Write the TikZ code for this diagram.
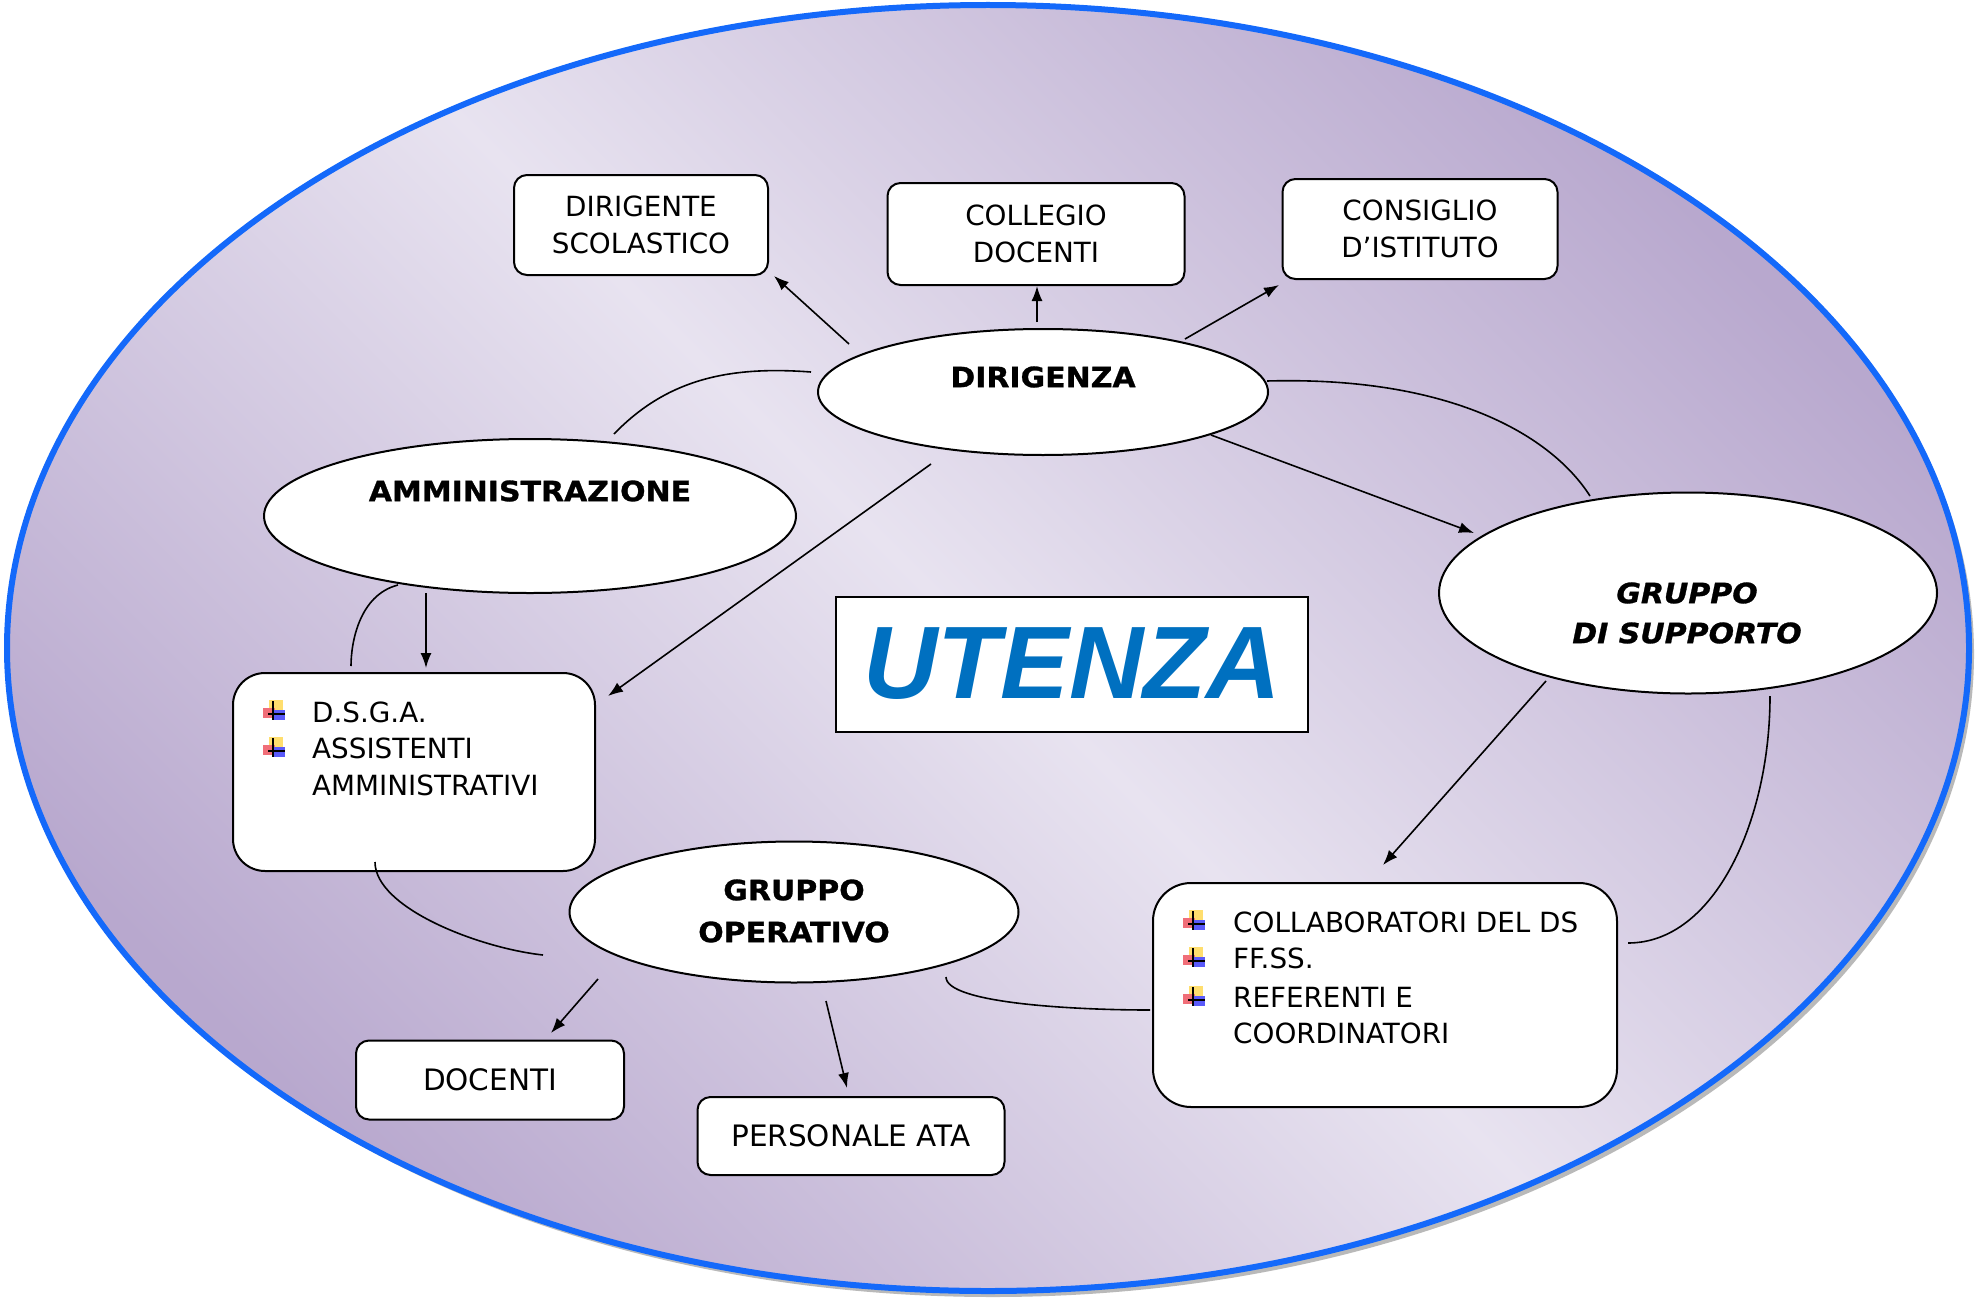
\documentclass[tikz,border=0pt]{standalone}
\usepackage{fontspec}
\setmainfont{DejaVu Sans}
\newfontfamily\bfw[FakeStretch=1.07,FakeBold=1]{DejaVu Sans Bold}
\newfontfamily\bfwi[FakeStretch=1.07,FakeBold=1]{DejaVu Sans Bold Oblique}
\newfontfamily\utz{Liberation Sans}
\usetikzlibrary{shapes.geometric,arrows.meta,calc}
\definecolor{bgdark}{RGB}{184,168,206}
\definecolor{bglight}{RGB}{232,227,240}
\definecolor{ringblue}{RGB}{20,105,250}
\definecolor{utzblue}{RGB}{0,112,192}
\definecolor{bulyel}{RGB}{255,222,110}
\definecolor{bulred}{RGB}{240,110,120}
\definecolor{bulblue}{RGB}{90,90,250}
\tikzset{
  oval/.style={ellipse, draw=black, line width=2pt, fill=white, inner sep=0pt},
  rbox/.style={rectangle, rounded corners=13pt, draw=black, line width=2pt, fill=white,
    align=center, inner sep=0pt, font=\fontsize{27.8}{37}\selectfont},
  bigbox/.style={rectangle, draw=black, line width=2pt, fill=white, inner sep=0pt},
  btxt/.style={font=\bfw\fontsize{28}{40}\selectfont, align=center, inner sep=0pt},
  ltxt/.style={font=\fontsize{27.8}{37}\selectfont, anchor=base west, inner sep=0pt},
  conn/.style={line width=1.6pt},
  arr/.style={line width=1.6pt, -{Latex[length=15pt,width=11pt]}},
  bul/.pic={
    \fill[bulyel] (-5,-10) rectangle (9,0);
    \fill[bulred] (-11,-2) rectangle (1,8);
    \fill[bulblue] (-2,0) rectangle (11,10);
    \draw[line width=1.3pt] (-1,-9) -- (-1,10) (-6,4) -- (11,4);
  }
}
\begin{document}
\begin{tikzpicture}[x=1pt,y=-1pt]
\useasboundingbox (0,0) rectangle (1977,1303);
\fill[white] (0,0) rectangle (1977,1303);
% big ellipse
\fill[gray!55] (993,654) ellipse [x radius=981pt, y radius=643pt];
\shade[top color=bgdark, bottom color=bgdark, middle color=bglight, shading angle=-45]
  (988,648) ellipse [x radius=981pt, y radius=643pt];
\draw[ringblue, line width=6pt] (988,648) ellipse [x radius=981pt, y radius=643pt];

% ellipses
\node[oval, minimum width=450pt, minimum height=126pt] (dir) at (1043,392) {};
\node[btxt] (dirt) at (1043,377) {DIRIGENZA};
\node[oval, minimum width=532pt, minimum height=154pt] (amm) at (530,516) {};
\node[btxt] (ammt) at (530,491) {AMMINISTRAZIONE};
\node[oval, minimum width=498pt, minimum height=201pt] (sup) at (1688,593) {};
\node[btxt, font=\bfwi\fontsize{28}{40}\selectfont] (supt) at (1687,613) {GRUPPO\\DI SUPPORTO};
\node[oval, minimum width=449pt, minimum height=141pt] (ope) at (794,912) {};
\node[btxt, font=\bfw\fontsize{28}{42}\selectfont] (opet) at (794,911) {GRUPPO\\OPERATIVO};

% boxes
\node[rbox, minimum width=254pt, minimum height=100pt] (ds) at (641,225) {DIRIGENTE\\SCOLASTICO};
\node[rbox, minimum width=297pt, minimum height=102pt] (cd) at (1036,234) {COLLEGIO\\DOCENTI};
\node[rbox, minimum width=275pt, minimum height=100pt] (ci) at (1420,229) {CONSIGLIO\\D’ISTITUTO};
\node[rbox, minimum width=268pt, minimum height=79pt, font=\fontsize{29.5}{37}\selectfont] (doc) at (490,1080) {DOCENTI};
\node[rbox, minimum width=307pt, minimum height=78pt, font=\fontsize{29.5}{37}\selectfont] (ata) at (851,1136) {PERSONALE ATA};
\node[bigbox, rounded corners=32pt, minimum width=362pt, minimum height=198pt] (dsga) at (414,772) {};
\node[bigbox, rounded corners=38pt, minimum width=464pt, minimum height=224pt] (coll) at (1385,995) {};

\node[rectangle, draw=black, line width=2pt, fill=white, minimum width=472pt, minimum height=135pt,
  inner sep=0pt, text=utzblue, font=\utz\bfseries\itshape\fontsize{103}{103}\selectfont] (utz) at (1072,664) {UTENZA};

% lists
\node[ltxt] (l1) at (312,722) {D.S.G.A.};
\node[ltxt] (l2) at (312,758) {ASSISTENTI};
\node[ltxt] (l3) at (312,795) {AMMINISTRATIVI};
\pic at (274,710) {bul};
\pic at (274,747) {bul};
\node[ltxt] (c1) at (1233,932) {COLLABORATORI DEL DS};
\node[ltxt] (c2) at (1233,968) {FF.SS.};
\node[ltxt] (c3) at (1233,1007) {REFERENTI E};
\node[ltxt] (c4) at (1233,1043) {COORDINATORI};
\pic at (1194,920) {bul};
\pic at (1194,957) {bul};
\pic at (1194,996) {bul};

% connector end points
\coordinate (a1s) at (849,344);  \coordinate (a1e) at (774,276);
\coordinate (a2s) at (1037,322); \coordinate (a2e) at (1037,286);
\coordinate (a3s) at (1185,339); \coordinate (a3e) at (1279,285);
\coordinate (a4s) at (1211,435); \coordinate (a4e) at (1474,533);
\coordinate (a5s) at (931,464);  \coordinate (a5e) at (608,696);
\coordinate (a6s) at (426,593);  \coordinate (a6e) at (426,668);
\coordinate (a7s) at (1546,681); \coordinate (a7e) at (1383,865);
\coordinate (a8s) at (598,979);  \coordinate (a8e) at (551,1033);
\coordinate (a9s) at (826,1001); \coordinate (a9e) at (847,1088);

\draw[arr] (a1s) -- (a1e);
\draw[arr] (a2s) -- (a2e);
\draw[arr] (a3s) -- (a3e);
\draw[arr] (a4s) -- (a4e);
\draw[arr] (a5s) -- (a5e);
\draw[arr] (a6s) -- (a6e);
\draw[arr] (a7s) -- (a7e);
\draw[arr] (a8s) -- (a8e);
\draw[arr] (a9s) -- (a9e);

\coordinate (ca1) at (614,434);  \coordinate (ca2) at (811,372);
\coordinate (cb1) at (1267,381); \coordinate (cb2) at (1590,496);
\coordinate (cc1) at (398,585);  \coordinate (cc2) at (351,666);
\coordinate (cd1) at (375,862);  \coordinate (cd2) at (543,955);
\coordinate (ce1) at (946,977);  \coordinate (ce2) at (1150,1010);
\coordinate (cf1) at (1770,696); \coordinate (cf2) at (1628,943);

\draw[conn] (ca1) .. controls (668,378) and (731,366) .. (ca2);
\draw[conn] (cb1) .. controls (1450,376) and (1551,435) .. (cb2);
\draw[conn] (cc1) .. controls (359,595) and (351,643) .. (cc2);
\draw[conn] (cd1) .. controls (375,908) and (479,948) .. (cd2);
\draw[conn] (ce1) .. controls (946,1003) and (1072,1010) .. (ce2);
\draw[conn] (cf1) .. controls (1770,820) and (1715,943) .. (cf2);
\end{tikzpicture}
\end{document}
